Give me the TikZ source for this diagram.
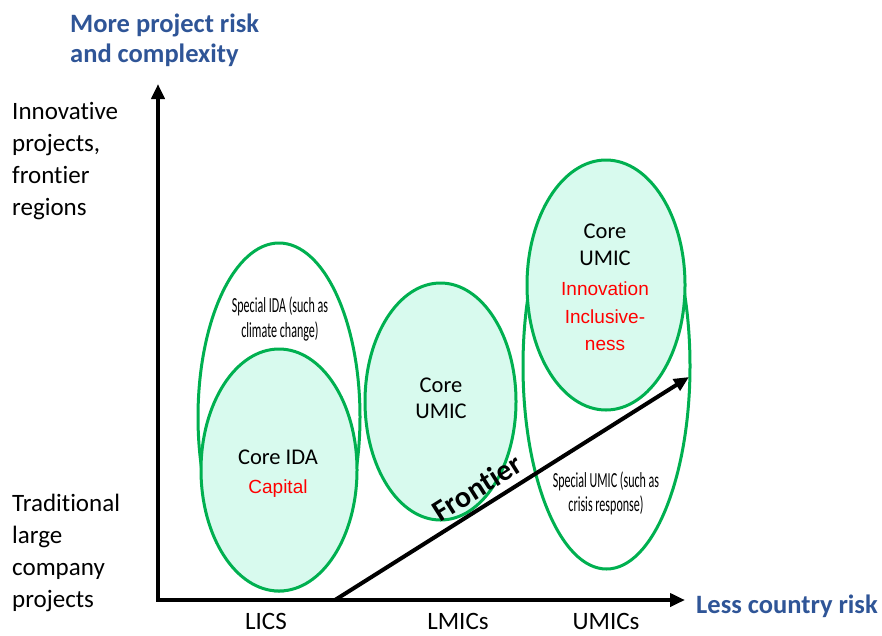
\documentclass[tikz,border=0pt]{standalone}
\usepackage{fontspec}
\setmainfont{Carlito}[Ligatures=CommonOff]
\newfontfamily\arialfont{Liberation Sans}
\newfontfamily\narrowfont[FakeStretch=0.56,Ligatures=CommonOff]{Carlito}
\usetikzlibrary{arrows.meta,calc}
\definecolor{riskblue}{RGB}{47,85,151}
\definecolor{ellgreen}{RGB}{0,176,80}
\definecolor{corefill}{RGB}{216,250,238}
\tikzstyle{axisarrow} = [line width=4pt,-{Triangle[length=15pt,width=13pt]}]
\tikzstyle{rim} = [draw=ellgreen,line width=3pt]
\tikzstyle{corezone} = [rim,fill=corefill]
\tikzstyle{specialzone} = [rim,fill=white]
\tikzstyle{sidelbl} = [inner sep=0pt,anchor=base west,font=\fontsize{25}{32}\selectfont]
\tikzstyle{bluelbl} = [inner sep=0pt,anchor=base west,text=riskblue,font=\fontsize{26.5}{32}\selectfont\bfseries]
\tikzstyle{zonelbl} = [inner sep=0pt,anchor=base,font=\fontsize{22.5}{27}\selectfont]
\tikzstyle{redlbl} = [inner sep=0pt,anchor=base,text=red,font=\fontsize{19}{27}\selectfont\arialfont]
\tikzstyle{smalllbl} = [inner sep=0pt,anchor=base,font=\fontsize{21.5}{25}\selectfont\narrowfont]

\begin{document}
\begin{tikzpicture}[x=1pt,y=-1pt]
	\useasboundingbox (0,0) rectangle (882,635);

	%% axes and frontier end points
	\coordinate (O) at (158,600);
	\coordinate (O1) at (156,600);
	\coordinate (Ytop) at (158,84);
	\coordinate (Xend) at (685,600);
	\coordinate (F0) at (335,600);
	\coordinate (F1) at (689,377);

	%% centres of the zones
	\coordinate (IDAspec) at (279,417);
	\coordinate (IDAcore) at (279,470);
	\coordinate (UMICmid) at (440.5,401.5);
	\coordinate (UMICspec) at (606.5,366);
	\coordinate (UMICtop) at (606,285);

	%% zones (back ones first)
	\draw[specialzone] (IDAspec) ellipse [x radius=81, y radius=174];
	\draw[corezone] (IDAcore) ellipse [x radius=78, y radius=121];
	\draw[corezone] (UMICmid) ellipse [x radius=75.5, y radius=118.5];
	\draw[specialzone] (UMICspec) ellipse [x radius=83.5, y radius=203];
	\draw[corezone] (UMICtop) ellipse [x radius=79, y radius=125];

	%% axes
	\draw[axisarrow] (O) -- (Ytop);
	\draw[axisarrow] (O1) -- (Xend);
	\draw[axisarrow] (F0) -- node[pos=0.43,sloped,above,inner sep=7pt,font=\fontsize{30}{32}\selectfont\bfseries] (frontier) {Frontier} (F1);

	%% axis titles
	\node[bluelbl] (more0) at (70,32) {More project risk};
	\node[bluelbl] (more1) at (70,62) {and complexity};
	\node[bluelbl] (less) at (696,613) {Less country risk};

	%% y axis ends
	\foreach \t [count=\i from 0] in {Innovative,{projects,},frontier,regions}
		\node[sidelbl] (inno\i) at (12,119+32*\i) {\t};
	\foreach \t [count=\i from 0] in {Traditional,large,company,projects}
		\node[sidelbl] (trad\i) at (12,511+32*\i) {\t};

	%% x axis groups
	\node[sidelbl,anchor=base] (lics) at (266,629) {LICS};
	\node[sidelbl,anchor=base] (lmics) at (458,629) {LMICs};
	\node[sidelbl,anchor=base] (umics) at (606,629) {UMICs};

	%% zone texts
	\node[smalllbl] (ida0) at (280,312) {Special IDA (such as};
	\node[smalllbl] (ida1) at (280,337) {climate change)};
	\node[zonelbl] (idacore) at (278,464) {Core IDA};
	\node[redlbl] (capital) at (278,493) {Capital};
	\node[zonelbl] (mid0) at (441,392) {Core};
	\node[zonelbl] (mid1) at (441,418) {UMIC};
	\node[zonelbl] (top0) at (605,238) {Core};
	\node[zonelbl] (top1) at (605,265) {UMIC};
	\node[redlbl] (top2) at (605,295) {Innovation};
	\node[redlbl] (top3) at (605,323) {Inclusive-};
	\node[redlbl] (top4) at (605,350) {ness};
	\node[smalllbl] (umic0) at (606,487) {Special UMIC (such as};
	\node[smalllbl] (umic1) at (606,511) {crisis response)};
\end{tikzpicture}
\end{document}
